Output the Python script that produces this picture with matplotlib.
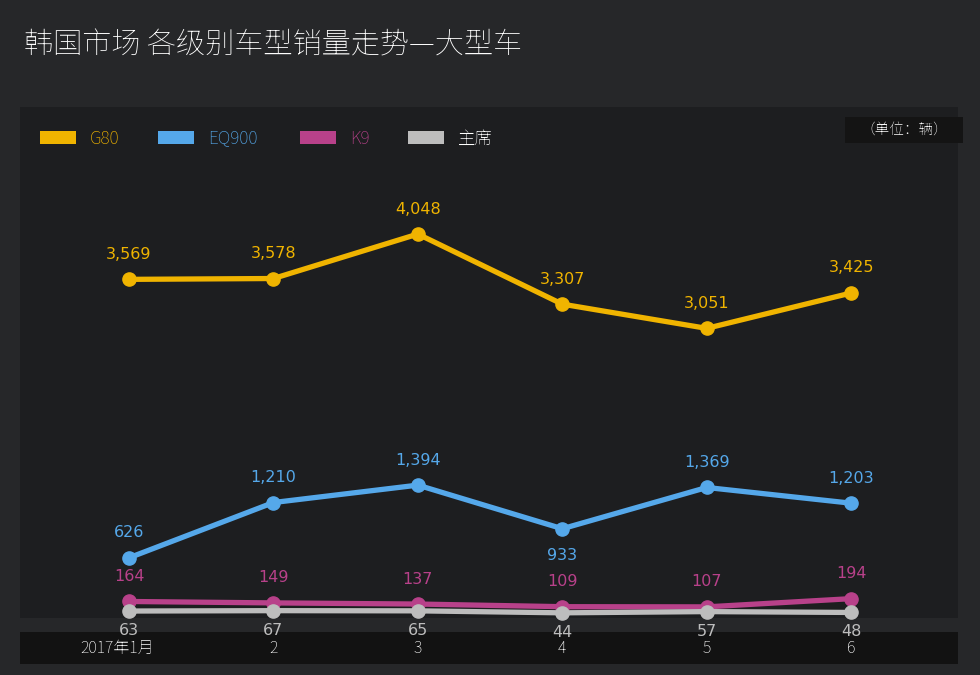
import matplotlib
matplotlib.use("Agg")
import matplotlib.pyplot as plt
from matplotlib.patches import Rectangle
from matplotlib import font_manager as fm

cjk = None
for f in fm.findSystemFonts():
    if "NotoSansCJK" in f.replace(" ", "") or "NotoSansSC" in f.replace(" ", ""):
        try:
            fm.fontManager.addfont(f)
            name = fm.FontProperties(fname=f).get_name()
            if cjk is None or "SC" in name:
                cjk = name
        except Exception:
            pass
plt.rcParams["font.family"] = [cjk or "Noto Sans CJK SC", "DejaVu Sans"]

months = ["2017年1月", "2", "3", "4", "5", "6"]
g80 = [3569, 3578, 4048, 3307, 3051, 3425]
eq900 = [626, 1210, 1394, 933, 1369, 1203]
k9 = [164, 149, 137, 109, 107, 194]
zhuxi = [63, 67, 65, 44, 57, 48]

series = [("G80", g80, "#f0b400"), ("EQ900", eq900, "#55a8ea"),
          ("K9", k9, "#b8418a"), ("主席", zhuxi, "#bdbdbd")]

W, H = 980, 675
fig = plt.figure(figsize=(W/100, H/100), dpi=100)
fig.patch.set_facecolor("#262729")

def fx(px): return px / W
def fy(py): return 1 - py / H

fig.patches.append(Rectangle((fx(20), fy(618)), fx(938), 511/H, transform=fig.transFigure,
                             facecolor="#1d1e20", edgecolor="none", zorder=-2))
fig.patches.append(Rectangle((fx(20), fy(664)), fx(938), 32/H, transform=fig.transFigure,
                             facecolor="#121212", edgecolor="none", zorder=-2))

fig.text(fx(24), fy(45), "韩国市场 各级别车型销量走势—大型车", color="white",
         fontsize=21, fontweight="bold", va="center", ha="left")

ax = fig.add_axes([fx(20), fy(618), fx(938), 511/H])
ax.set_zorder(5)
ax.set_facecolor("none")
ax.set_xlim(-0.755, 5.74)
ax.set_ylim(-10.6, 5391)
ax.axis("off")

x = list(range(len(months)))
for name, vals, c in series:
    ax.plot(x, vals, color=c, lw=3.8, marker="o", ms=9.5, solid_joinstyle="round",
            zorder=3, clip_on=False)

for name, vals, c in series:
    for i, v in enumerate(vals):
        if name == "主席":
            off = -14
        elif name == "EQ900" and v == 933:
            off = -19
        else:
            off = 18
        ax.annotate(f"{v:,}", (i, v), xytext=(0, off), textcoords="offset points",
                    ha="center", va="center", color=c, fontsize=11.5,
                    fontfamily="DejaVu Sans", zorder=4, annotation_clip=False)

for i, m in enumerate(months):
    px = 129 + i * 144.4
    if i == 0:
        px = 117
    fig.text(fx(px), fy(648), m, color="white", fontsize=11.5, ha="center", va="center")

lx = [40, 158, 300, 408]
for (name, vals, c), px in zip(series, lx):
    fig.patches.append(Rectangle((fx(px), fy(144)), fx(36), 13/H, transform=fig.transFigure,
                                 facecolor=c, edgecolor="none"))
    fig.text(fx(px + 50), fy(138), name, color=c if name != "主席" else "white",
             fontsize=12.5, ha="left", va="center")

fig.patches.append(Rectangle((fx(845), fy(143)), fx(118), 26/H, transform=fig.transFigure,
                             facecolor="#141414", edgecolor="none"))
fig.text(fx(904), fy(130), "（单位：辆）", color="white", fontsize=10.5, ha="center", va="center")

fig.savefig("out.png", dpi=100, facecolor=fig.get_facecolor())
